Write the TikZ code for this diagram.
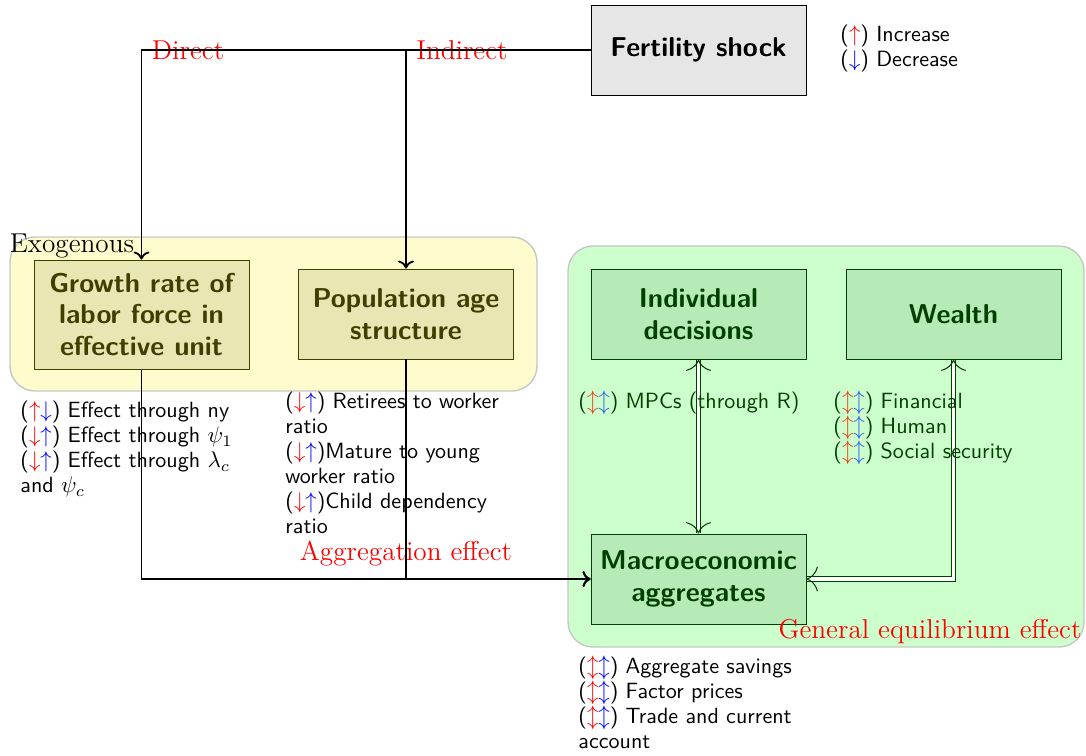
\documentclass[tikz,border=0pt]{standalone}
\usetikzlibrary{arrows.meta}
\definecolor{yelbg}{HTML}{FEFBCC}
\definecolor{yelbox}{HTML}{E8E6B2}
\definecolor{yeldark}{HTML}{3F3F00}
\definecolor{grnbg}{HTML}{CCFFCC}
\definecolor{grnbox}{HTML}{B6EAB6}
\definecolor{grndark}{HTML}{004000}
\definecolor{fertbox}{HTML}{E6E6E6}
\definecolor{ored}{HTML}{E8401C}
\definecolor{oblue}{HTML}{2F5FE8}
\newcommand{\UR}{{\color{red}$\uparrow$}}
\newcommand{\DR}{{\color{red}$\downarrow$}}
\newcommand{\UB}{{\color{blue}$\uparrow$}}
\newcommand{\DB}{{\color{blue}$\downarrow$}}
\newcommand{\UDo}{{\color{ored}$\updownarrow$}{\color{oblue}$\updownarrow$}}
\newcommand{\UDr}{{\color{red}$\updownarrow$}{\color{blue}$\updownarrow$}}
\begin{document}
\begin{tikzpicture}[x=0.44pt,y=-0.44pt,
  bgbox/.style={rounded corners=11pt, draw=gray!45, line width=0.6pt},
  ybox/.style={draw=yeldark, fill=yelbox, text=yeldark, line width=0.4pt, font=\sffamily\bfseries\large, align=center, minimum width=94.6pt, inner sep=2pt},
  gbox/.style={draw=grndark, fill=grnbox, text=grndark, line width=0.4pt, font=\sffamily\bfseries\large, align=center, minimum width=94.6pt, minimum height=39.6pt, inner sep=2pt},
  fbox/.style={draw=black, fill=fertbox, line width=0.4pt, font=\sffamily\bfseries\large, align=center, minimum width=94.6pt, minimum height=39.6pt},
  note/.style={font=\sffamily\fontsize{9.7pt}{11pt}\selectfont, align=left, inner sep=0pt, anchor=north west},
  redlab/.style={text=red, font=\large, inner sep=0pt},
  flow/.style={line width=0.8pt, -{To[length=3.5pt,width=7pt]}},
  dflow/.style={double, double distance=1.4pt, line width=0.45pt, draw=grndark, {To[length=5pt,width=11pt]}-{To[length=5pt,width=11pt]}}
]
\useasboundingbox (0,0) rectangle (1086,756);
% backgrounds
\draw[bgbox, fill=yelbg] (10,237) rectangle (537,391);
\draw[bgbox, fill=grnbg] (568,246) rectangle (1084,647);
% nodes
\node[fbox] (fert) at (698.5,50) {Fertility shock};
\node[ybox, minimum height=48pt] (growth) at (141.5,314.5) {Growth rate of\\labor force in\\effective unit};
\node[ybox, minimum height=39.6pt] (pop) at (406,314) {Population age\\structure};
\node[gbox] (indiv) at (698.5,314) {Individual\\decisions};
\node[gbox] (wealth) at (953.5,314) {Wealth};
\node[gbox] (macro) at (698.5,579) {Macroeconomic\\aggregates};
% legend
\node[note] (legend) at (840,25) {(\UR) Increase\\(\DB) Decrease};
% labels
\node[redlab] (direct) at (188,50) {Direct};
\node[redlab] (indirect) at (462,50) {Indirect};
\node[font=\large, inner sep=0pt] (exo) at (72,246) {Exogenous};
\node[redlab] (aggr) at (406,554) {Aggregation effect};
\node[redlab] (ge) at (930,632) {General equilibrium effect};
% connectors
\draw[flow] (fert.west) -| (growth.north);
\draw[flow] (fert.west) -| (pop.north);
\draw[flow] (growth.south) |- (macro.west);
\draw[flow] (pop.south) |- (macro.west);
\draw[dflow] (indiv.south) -- (macro.north);
\draw[dflow] (wealth.south) |- (macro.east);
% notes
\node[note] (gnote) at (20,401) {(\UR\DB) Effect through ny\\(\DR\UB) Effect through $\psi_1$\\(\DR\UB) Effect through $\lambda_c$\\and $\psi_c$};
\node[note] (pnote) at (285,392) {(\DR\UB) Retirees to worker\\ratio\\(\DR\UB)Mature to young\\worker ratio\\(\DR\UB)Child dependency\\ratio};
\node[note, text=grndark, anchor=west] (mpc) at (578,403) {(\UDo) MPCs (through R)};
\node[note, text=grndark] (wnote) at (833,391) {(\UDo) Financial\\(\UDo) Human\\(\UDo) Social security};
\node[note] (mnote) at (578,656) {(\UDr) Aggregate savings\\(\UDr) Factor prices\\(\UDr) Trade and current\\account};
\end{tikzpicture}
\end{document}
